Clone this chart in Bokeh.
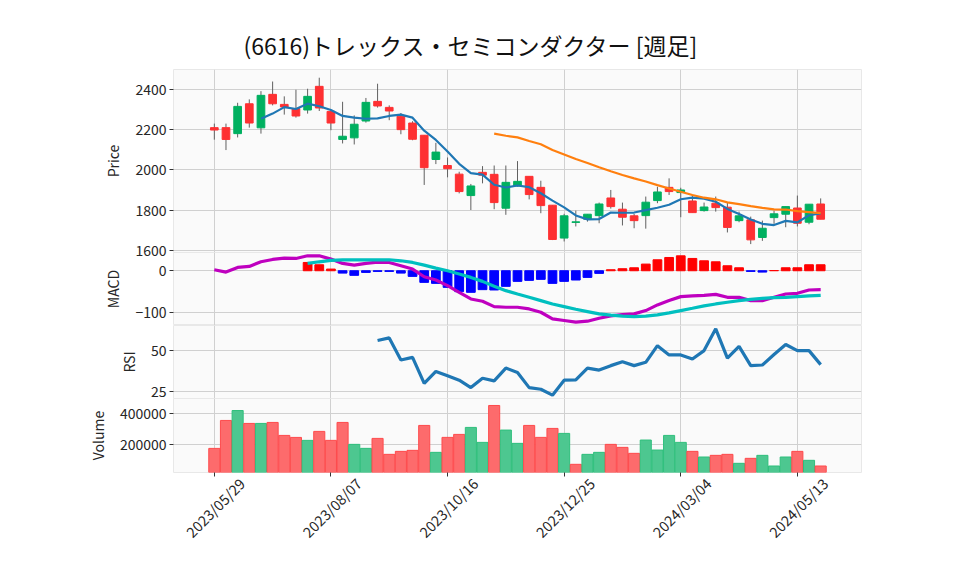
import math
from bokeh.plotting import figure
from bokeh.layouts import column
from bokeh.models import ColumnDataSource, FixedTicker, Grid, LinearAxis, Range1d
from bokeh.embed import file_html
from bokeh.resources import INLINE

# ---------------- data ----------------
title_text = "(6616)トレックス・セミコンダクター  [週足]"
tick_index = [0, 10, 20, 30, 40, 50]
tick_dates = ["2023/05/29", "2023/08/07", "2023/10/16",
              "2023/12/25", "2024/03/04", "2024/05/13"]

opens = [2211, 2211, 2181, 2330, 2210, 2377, 2327, 2306, 2299, 2417,
         2292, 2152, 2160, 2244, 2342, 2312, 2268, 2234, 2173, 2052,
         2022, 1979, 1872, 1988, 1978, 1809, 1920, 1968, 1913, 1824,
         1660, 1738, 1754, 1772, 1860, 1804, 1771, 1772, 1847, 1913,
         1887, 1845, 1797, 1834, 1814, 1747, 1751, 1663, 1762, 1779,
         1810, 1739, 1830]
highs = [2231, 2231, 2335, 2352, 2393, 2441, 2367, 2400, 2405, 2460,
         2292, 2340, 2272, 2359, 2430, 2322, 2284, 2243, 2173, 2135,
         2062, 1991, 1930, 2019, 2022, 2022, 2044, 1968, 1946, 1824,
         1781, 1797, 1779, 1837, 1900, 1837, 1781, 1867, 1916, 1958,
         1911, 1870, 1837, 1867, 1837, 1792, 1767, 1747, 1797, 1817,
         1872, 1829, 1858]
lows = [2151, 2099, 2162, 2211, 2181, 2322, 2276, 2261, 2281, 2294,
        2198, 2132, 2127, 2236, 2311, 2248, 2178, 2148, 1925, 2029,
        1963, 1883, 1800, 1933, 1804, 1776, 1917, 1853, 1784, 1650,
        1643, 1718, 1742, 1734, 1807, 1723, 1709, 1707, 1834, 1875,
        1764, 1787, 1792, 1792, 1688, 1739, 1630, 1646, 1731, 1714,
        1718, 1729, 1754]
closes = [2199, 2152, 2317, 2234, 2372, 2330, 2314, 2269, 2367, 2309,
          2234, 2168, 2228, 2337, 2319, 2294, 2201, 2153, 2011, 2089,
          2006, 1892, 1920, 1974, 1837, 1938, 1943, 1877, 1822, 1653,
          1771, 1741, 1779, 1830, 1817, 1764, 1747, 1839, 1890, 1892,
          1900, 1787, 1815, 1812, 1713, 1771, 1651, 1709, 1781, 1817,
          1734, 1829, 1754]
volumes = [174000, 354800, 419000, 335500, 335500, 342000, 258000, 245000, 225800, 283900,
           225800, 342000, 200000, 174200, 238700, 135500, 154800, 161300, 322600, 148400,
           245200, 264500, 309700, 212900, 451600, 292500, 206500, 322600, 245200, 303200,
           271000, 71000, 135500, 148400, 200000, 180600, 142000, 228000, 163400, 258000,
           212900, 154800, 118300, 129000, 135500, 77400, 109700, 129000, 60200, 118300,
           154800, 96800, 60200]

ma5_start = 4
ma5 = [2254.8, 2281.0, 2313.4, 2303.8, 2330.4, 2317.8, 2298.6, 2269.4, 2261.2, 2255.2,
       2257.2, 2269.2, 2275.8, 2260.8, 2195.6, 2149.6, 2092.0, 2030.2, 1983.6, 1976.2,
       1925.8, 1912.2, 1922.4, 1913.8, 1883.4, 1846.6, 1813.2, 1772.8, 1753.2, 1754.8,
       1787.6, 1786.2, 1787.4, 1799.4, 1811.4, 1826.4, 1853.6, 1861.6, 1856.8, 1841.2,
       1805.4, 1779.6, 1752.4, 1731.2, 1725.0, 1745.8, 1738.4, 1774.0, 1783.0]
ma25_start = 24
ma25 = [2181.0, 2170.6, 2162.2, 2144.6, 2128.2, 2099.4, 2077.0, 2054.1, 2034.5, 2013.0,
        1993.4, 1974.6, 1957.7, 1942.2, 1924.3, 1907.2, 1891.4, 1874.9, 1861.4, 1853.4,
        1838.4, 1829.0, 1819.3, 1810.9, 1803.2, 1802.4, 1794.2, 1789.6, 1784.7]

macd_start = 0
macd = [2.4, -3.2, 7.9, 10.3, 21.4, 27.0, 30.2, 29.4, 35.7, 35.7,
        27.8, 17.5, 13.5, 17.5, 20.6, 19.8, 11.9, 4.0, -14.3, -22.2,
        -35.7, -51.6, -67.5, -73.0, -85.7, -87.3, -87.3, -91.3, -99.2, -115.1,
        -119.0, -123.0, -120.6, -113.5, -108.0, -104.8, -103.2, -95.2, -81.7, -71.4,
        -61.9, -60.3, -58.7, -56.4, -63.5, -63.5, -71.4, -71.4, -63.5, -55.6,
        -54.0, -46.0, -45.2]
signal_start = 8
signal = [17.5, 21.4, 24.6, 26.2, 26.2, 26.2, 26.2, 26.2, 23.8, 19.8,
          13.5, 6.3, 0.0, -7.9, -15.9, -25.4, -37.0, -47.6, -55.6, -63.5,
          -71.4, -79.4, -85.7, -92.0, -97.6, -103.2, -106.3, -108.7, -109.5, -108.7,
          -105.6, -100.8, -95.2, -89.7, -84.1, -79.4, -75.4, -71.4, -68.3, -65.9,
          -64.3, -63.5, -61.9, -60.3, -58.7]
hist_start = 8
hist = [19.8, 14.3, 4.0, -5.6, -11.0, -4.0, -1.6, -1.6, -5.6, -13.5,
        -27.8, -30.2, -39.7, -50.0, -51.6, -45.2, -46.0, -37.3, -25.4, -23.0,
        -20.6, -30.2, -25.4, -22.2, -15.9, -6.3, 2.4, 4.8, 7.1, 15.9,
        26.2, 31.7, 35.7, 29.4, 23.8, 21.4, 11.9, 7.1, -1.6, -3.2,
        0.5, 7.1, 7.1, 14.3, 14.3]
rsi_start = 14
rsi = [56.1, 57.7, 44.3, 45.9, 30.1, 37.4, 34.8, 32.1, 27.6, 33.3,
       31.7, 39.4, 36.8, 27.6, 26.6, 23.0, 32.1, 32.3, 39.4, 38.2,
       40.9, 43.3, 40.9, 42.9, 53.0, 47.4, 47.4, 44.9, 50.0, 63.2,
       45.5, 52.6, 40.9, 41.3, 47.6, 53.7, 50.0, 50.0, 41.5]

price_ticks = [1600, 1800, 2000, 2200, 2400]
macd_ticks = [-100, 0]
rsi_ticks = [25, 50]
volume_ticks = [200000, 400000]

# ---------------- style ----------------
FONT = "Noto Sans CJK JP"
GRID = "#d0d0d0"
BG = "#fafafa"
TXT = "#262626"
UP, DOWN = "#00b060", "#fe3032"
LEFT, RIGHT, FRAME_W = 173, 76, 688
W = LEFT + FRAME_W + RIGHT
LABEL_SHIFT = 2.35
OVERLAP = 8

n = len(closes)
idx = list(range(n))
x_range = Range1d(-3.5, 55.5)

candle_color = [UP if c >= o else DOWN for o, c in zip(opens, closes)]
vol_up = [closes[i] > (closes[i - 1] if i > 0 else opens[i]) for i in idx]
src = ColumnDataSource(dict(
    x=idx, o=opens, h=highs, l=lows, c=closes,
    top=[max(o, c) for o, c in zip(opens, closes)],
    bottom=[min(o, c) for o, c in zip(opens, closes)],
    color=candle_color,
    vol=volumes,
    vfill=["#4dc790" if u else "#fd6b6c" for u in vol_up],
    vedge=["#2fbf7c" if u else "#fe4a4c" for u in vol_up],
))


def panel(height, y_range, ticks, label, top=0, bottom=0, overrides=None, **kw):
    p = figure(width=W, height=height, x_range=x_range, y_range=y_range,
               x_axis_location=None, toolbar_location=None, output_backend="svg",
               min_border_left=LEFT, min_border_right=RIGHT,
               min_border_top=top, min_border_bottom=bottom,
               background_fill_color=BG, border_fill_color="white",
               outline_line_color="#e8e8e8", **kw)
    ax = p.yaxis[0]
    ax.ticker = FixedTicker(ticks=ticks)
    if overrides:
        ax.major_label_overrides = overrides
    ax.axis_line_color = None
    ax.major_tick_line_color = "#333333"
    ax.major_tick_out = 4
    ax.major_tick_in = 0
    ax.minor_tick_line_color = None
    ax.major_label_standoff = 3
    ax.major_label_text_font = FONT
    ax.major_label_text_font_size = "14px"
    ax.major_label_text_color = TXT
    ax.axis_label = label
    ax.axis_label_text_font = FONT
    ax.axis_label_text_font_size = "14px"
    ax.axis_label_text_font_style = "normal"
    ax.axis_label_text_color = TXT
    ax.axis_label_standoff = 9
    p.ygrid.grid_line_color = GRID
    p.add_layout(Grid(dimension=0, ticker=FixedTicker(ticks=tick_index),
                      grid_line_color=GRID))
    return p


# ---- price panel ----
p1 = panel(69 + 183 + OVERLAP, Range1d(1588, 2501), price_ticks, "Price",
           top=69, bottom=OVERLAP, title=title_text)
p1.title.align = "left"
p1.title.offset = 70
p1.title.text_font = FONT
p1.title.text_font_size = "23px"
p1.title.text_font_style = "normal"
p1.title.text_color = "#111111"
p1.title.standoff = 16
p1.segment(x0="x", y0="l", x1="x", y1="h", source=src, line_color="#606060", line_width=1)
p1.vbar(x="x", width=0.66, top="top", bottom="bottom", source=src,
        fill_color="color", line_color="color", line_width=1)
p1.line(list(range(ma5_start, ma5_start + len(ma5))), ma5,
        line_color="#1f77b4", line_width=2.2)
p1.line(list(range(ma25_start, ma25_start + len(ma25))), ma25,
        line_color="#ff7f0e", line_width=2.2)

# ---- MACD panel ----
p2 = panel(73, Range1d(-130.9, 43.6), macd_ticks, "MACD",
           overrides={-100: "\u2212100", 0: "0"}, title=None,
           styles={"margin-top": f"-{OVERLAP}px"})
p2.border_fill_alpha = 0
hx = list(range(hist_start, hist_start + len(hist)))
p2.vbar(x=hx, width=0.75, top=hist, bottom=0,
        color=["#ff0000" if v >= 0 else "#0000ff" for v in hist])
p2.line(list(range(macd_start, macd_start + len(macd))), macd,
        line_color="#bf00bf", line_width=3.2)
p2.line(list(range(signal_start, signal_start + len(signal))), signal,
        line_color="#00bfbf", line_width=3.2)

# ---- RSI panel ----
p3 = panel(73 + OVERLAP, Range1d(21.0, 65.2), rsi_ticks, "RSI",
           bottom=OVERLAP, title=None)
p3.line(list(range(rsi_start, rsi_start + len(rsi))), rsi,
        line_color="#1f77b4", line_width=3.2)

# ---- Volume panel ----
p4 = panel(74 + 95, Range1d(0.3 * min(volumes), 1.1 * max(volumes)), volume_ticks,
           "Volume", bottom=95, overrides={200000: "200000", 400000: "400000"},
           title=None, styles={"margin-top": f"-{OVERLAP}px"})
p4.border_fill_alpha = 0
p4.vbar(x="x", width=0.95, top="vol", bottom=0, source=src,
        fill_color="vfill", line_color="vedge", line_width=1)

axA = LinearAxis(ticker=FixedTicker(ticks=tick_index),
                 major_label_overrides={t: "" for t in tick_index},
                 axis_line_color=None, major_tick_line_color="#333333",
                 major_tick_out=4, major_tick_in=0, major_label_standoff=0,
                 minor_tick_line_color=None)
p4.add_layout(axA, "below")
p4.extra_x_ranges = {"lab": Range1d(-3.5 - LABEL_SHIFT, 55.5 - LABEL_SHIFT)}
axB = LinearAxis(x_range_name="lab", ticker=FixedTicker(ticks=tick_index),
                 major_label_overrides=dict(zip(tick_index, tick_dates)),
                 axis_line_color=None, major_tick_line_color=None,
                 minor_tick_line_color=None,
                 major_tick_out=0, major_tick_in=0, major_label_standoff=4,
                 major_label_orientation=math.pi / 4,
                 major_label_text_font=FONT, major_label_text_font_size="14.5px",
                 major_label_text_color=TXT)
p4.add_layout(axB, "below")

layout = column(p1, p2, p3, p4, spacing=0)
open("out.html", "w").write(file_html(layout, INLINE))
